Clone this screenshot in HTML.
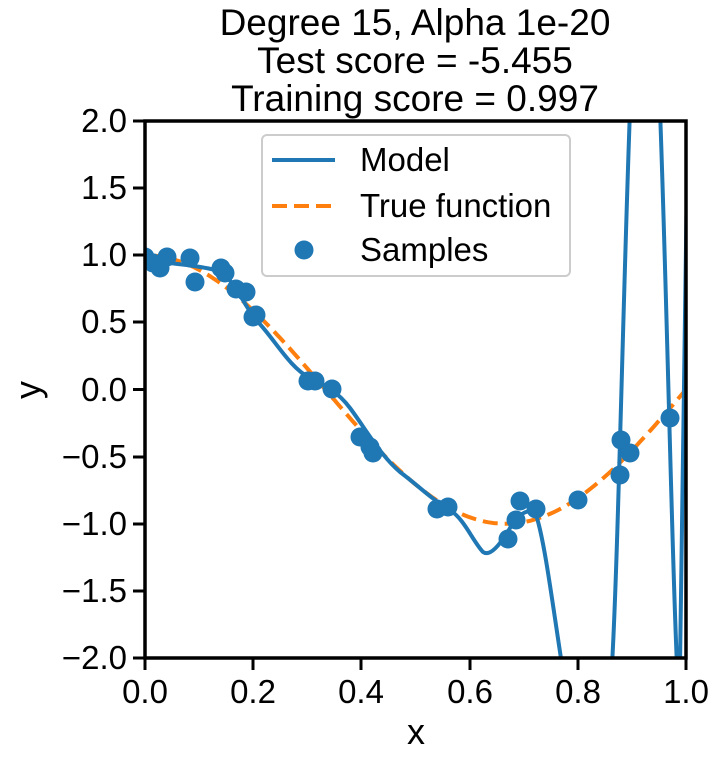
<!DOCTYPE html>
<html><head><meta charset="utf-8"><style>body{margin:0;background:#fff}svg{display:block}text{font-family:"Liberation Sans","DejaVu Sans",sans-serif;fill:#000}</style></head>
<body>
<svg width="721" height="758" viewBox="0 0 721 758" xmlns="http://www.w3.org/2000/svg">
<defs><clipPath id="c"><rect x="145" y="121" width="541" height="537"/></clipPath></defs>
<g font-size="37" text-anchor="middle">
<text x="415" y="35">Degree 15, Alpha 1e-20</text>
<text x="415" y="73">Test score = -5.455</text>
<text x="415" y="111">Training score = 0.997</text>
</g>
<g clip-path="url(#c)">
<path id="tf" fill="none" stroke="#ff7f0e" stroke-width="4" stroke-dasharray="15,7"/>
<path fill="none" stroke="#1f77b4" stroke-width="4" stroke-linejoin="round" d="M145,257 C155,258 160,262 170,263 C185,265 200,266 215,270 C235,276 242,305 258,322 C275,340 290,368 310,378 C325,385 338,392 350,408 C365,428 380,455 400,472 C420,487 430,498 450,510 C465,520 472,540 483,552 C490,557 500,545 510,528 C520,513 530,505 537,518 C545,545 552,600 562,665"/>
<path fill="none" stroke="#1f77b4" stroke-width="4" d="M612,665 C618,560 623,300 630,110 M660,110 C667,300 672,560 677,665 M680,665 C683,500 685,300 688,110"/>
<g fill="#1f77b4">
<circle cx="145" cy="257" r="9.5"/><circle cx="153" cy="263" r="9.5"/><circle cx="160" cy="268" r="9.5"/><circle cx="167" cy="257" r="9.5"/><circle cx="190" cy="258" r="9.5"/><circle cx="195" cy="282" r="9.5"/><circle cx="221" cy="268" r="9.5"/><circle cx="225" cy="273" r="9.5"/><circle cx="236" cy="289" r="9.5"/><circle cx="246" cy="292" r="9.5"/><circle cx="253" cy="317" r="9.5"/><circle cx="256" cy="315" r="9.5"/><circle cx="308" cy="381" r="9.5"/><circle cx="315" cy="381" r="9.5"/><circle cx="332" cy="389" r="9.5"/><circle cx="360" cy="437" r="9.5"/><circle cx="370" cy="447" r="9.5"/><circle cx="373" cy="453" r="9.5"/><circle cx="437" cy="509" r="9.5"/><circle cx="448" cy="507" r="9.5"/><circle cx="508" cy="539" r="9.5"/><circle cx="516" cy="520" r="9.5"/><circle cx="520" cy="501" r="9.5"/><circle cx="536" cy="509" r="9.5"/><circle cx="578" cy="500" r="9.5"/><circle cx="620" cy="475" r="9.5"/><circle cx="621" cy="440" r="9.5"/><circle cx="630" cy="453" r="9.5"/><circle cx="670" cy="418" r="9.5"/>
</g>
</g>
<g stroke="#000" stroke-width="3.5" fill="none"><rect x="145" y="121" width="541" height="537"/></g>
<g stroke="#000" stroke-width="3">
<line x1="145" y1="658" x2="145" y2="670"/><line x1="253" y1="658" x2="253" y2="670"/><line x1="361" y1="658" x2="361" y2="670"/><line x1="470" y1="658" x2="470" y2="670"/><line x1="578" y1="658" x2="578" y2="670"/><line x1="686" y1="658" x2="686" y2="670"/>
<line x1="133" y1="121" x2="145" y2="121"/><line x1="133" y1="188" x2="145" y2="188"/><line x1="133" y1="255" x2="145" y2="255"/><line x1="133" y1="322" x2="145" y2="322"/><line x1="133" y1="389.5" x2="145" y2="389.5"/><line x1="133" y1="457" x2="145" y2="457"/><line x1="133" y1="524" x2="145" y2="524"/><line x1="133" y1="591" x2="145" y2="591"/><line x1="133" y1="658" x2="145" y2="658"/>
</g>
<g font-size="33" text-anchor="middle">
<text x="145" y="703">0.0</text><text x="253" y="703">0.2</text><text x="361" y="703">0.4</text><text x="470" y="703">0.6</text><text x="578" y="703">0.8</text><text x="686" y="703">1.0</text>
<text x="416" y="744" font-size="36">x</text>
</g>
<g font-size="33" text-anchor="end">
<text x="127" y="132">2.0</text><text x="127" y="199">1.5</text><text x="127" y="266">1.0</text><text x="127" y="333">0.5</text><text x="127" y="401">0.0</text><text x="127" y="468">−0.5</text><text x="127" y="535">−1.0</text><text x="127" y="602">−1.5</text><text x="127" y="669">−2.0</text>
</g>
<text x="40" y="390" font-size="36" text-anchor="middle" transform="rotate(-90 40 390)">y</text>
<rect x="262" y="135" width="308" height="141" rx="5" fill="#fff" fill-opacity="0.8" stroke="#ccc" stroke-width="2"/>
<line x1="272" y1="160" x2="335" y2="160" stroke="#1f77b4" stroke-width="4"/>
<line x1="272" y1="206" x2="335" y2="206" stroke="#ff7f0e" stroke-width="4" stroke-dasharray="15,7"/>
<circle cx="304" cy="250" r="9.5" fill="#1f77b4"/>
<g font-size="33"><text x="360" y="171">Model</text><text x="360" y="217">True function</text><text x="360" y="261">Samples</text></g>
<script>
var d="";for(var i=0;i<=200;i++){var x=i/200;var y=Math.cos(1.5*Math.PI*x);d+=(i?"L":"M")+(145+541*x).toFixed(1)+","+(389.5-134.25*y).toFixed(1);}
document.getElementById("tf").setAttribute("d",d);
</script>
</svg>
</body></html>
